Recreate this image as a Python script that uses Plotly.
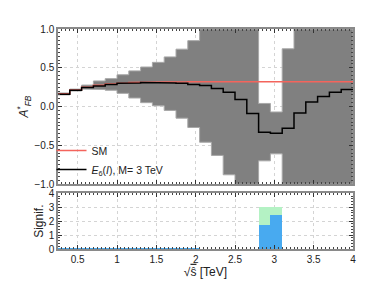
import numpy as np
import plotly.graph_objects as go

# ---- data ----
bin_edges = [0.25, 0.40, 0.55, 0.70, 0.85, 1.00, 1.15, 1.30, 1.45, 1.60, 1.75, 1.90, 2.05,
             2.20, 2.35, 2.50, 2.65, 2.80, 2.95, 3.10, 3.25, 3.40, 3.55, 3.70, 3.85, 4.00]

sm_afb = [0.165, 0.215, 0.25, 0.275, 0.29, 0.30, 0.31, 0.315, 0.317, 0.318, 0.319, 0.32,
          0.32, 0.32, 0.32, 0.32, 0.32, 0.32, 0.32, 0.32, 0.32, 0.32, 0.32, 0.32, 0.32]

e6_afb = [0.16, 0.21, 0.245, 0.265, 0.285, 0.30, 0.305, 0.31, 0.31, 0.305, 0.30, 0.285,
          0.27, 0.234, 0.186, 0.09, -0.09, -0.33, -0.343, -0.28, -0.083, 0.06, 0.13, 0.186, 0.22]

band_hi = [0.175, 0.225, 0.277, 0.33, 0.36, 0.41, 0.46, 0.51, 0.57, 0.64, 0.74, 0.85,
           1.0, 1.0, 1.0, 1.0, 1.0, 0.04, -0.07, 0.745, 1.0, 1.0, 1.0, 1.0, 1.0]
band_lo = [0.15, 0.20, 0.225, 0.22, 0.21, 0.17, 0.11, 0.05, 0.01, -0.05, -0.15, -0.27,
           -0.46, -0.63, -0.88, -1.0, -1.0, -0.70, -0.61, -1.0, -1.0, -1.0, -1.0, -1.0, -1.0]

signif_total = [0.04, 0.04, 0.04, 0.04, 0.04, 0.04, 0.04, 0.04, 0.04, 0.04, 0.04, 0.04,
                0, 0, 0, 0, 0, 3.0, 3.0, 0, 0, 0, 0, 0, 0]
signif_stat = [0.035, 0.035, 0.035, 0.035, 0.035, 0.035, 0.035, 0.035, 0.035, 0.035, 0.035, 0.035,
               0, 0, 0, 0, 0, 1.73, 2.45, 0, 0, 0, 0, 0, 0]

top_yticks = [-1.0, -0.5, 0.0, 0.5, 1.0]
bot_yticks = [0, 1, 2, 3, 4]
x_ticks = [0.5, 1, 1.5, 2, 2.5, 3, 3.5, 4]


def steps(edges, vals):
    xs, ys = [], []
    for i, v in enumerate(vals):
        xs += [edges[i], edges[i + 1]]
        ys += [v, v]
    return xs, ys


FONT = "Liberation Sans, Arial, sans-serif"
fig = go.Figure()

# band
ux, uy = steps(bin_edges, band_hi)
lx, ly = steps(bin_edges, band_lo)
fig.add_trace(go.Scatter(x=ux + lx[::-1], y=uy + ly[::-1], fill="toself",
                         fillcolor="#808080", mode="lines",
                         line=dict(color="#a8a8a8", width=1),
                         showlegend=False, hoverinfo="skip", xaxis="x", yaxis="y"))

sx, sy = steps(bin_edges, sm_afb)
fig.add_trace(go.Scatter(x=sx, y=sy, mode="lines", name="SM",
                         line=dict(color="#f4645c", width=1.5), xaxis="x", yaxis="y"))
ex, ey = steps(bin_edges, e6_afb)
fig.add_trace(go.Scatter(x=ex, y=ey, mode="lines",
                         name="<i>E</i><sub>6</sub>(<i>I</i>), M= 3 TeV",
                         line=dict(color="black", width=1.5), xaxis="x", yaxis="y"))

centers = [(bin_edges[i] + bin_edges[i + 1]) / 2 for i in range(len(bin_edges) - 1)]
widths = [bin_edges[i + 1] - bin_edges[i] for i in range(len(bin_edges) - 1)]
fig.add_trace(go.Bar(x=centers, y=signif_total, width=widths, marker_color="#b4f2c4",
                     marker_line_width=0, showlegend=False, xaxis="x2", yaxis="y2"))
fig.add_trace(go.Bar(x=centers, y=signif_stat, width=widths, marker_color="#48aaf0",
                     marker_line_width=0, showlegend=False, xaxis="x2", yaxis="y2"))

axis_common = dict(showline=True, mirror="allticks", linecolor="#8a8a8a", linewidth=1.5,
                   ticks="inside", ticklen=4, tickcolor="#333", tickwidth=1,
                   showgrid=True, gridcolor="#d4d4d4", griddash="dot", gridwidth=1,
                   zeroline=False, automargin=False,
                   tickfont=dict(size=10, color="#222", family=FONT))
minor_x = dict(ticks="inside", ticklen=2, dtick=0.05, tickcolor="#444", showgrid=False)

fig.update_layout(
    width=392, height=294,
    margin=dict(l=50, r=47, t=21, b=53),
    paper_bgcolor="white", plot_bgcolor="white",
    font=dict(family=FONT, size=11, color="#222"),
    barmode="overlay", bargap=0,
    xaxis=dict(axis_common, domain=[0, 1], range=[0.25, 4.0], tickvals=x_ticks,
               showticklabels=False, anchor="y", minor=minor_x),
    yaxis=dict(axis_common, domain=[0.295, 1], range=[-1.0, 1.0], tickvals=top_yticks,
               tickformat=".1f", anchor="x",
               title=dict(text="<i>A</i><sup>*</sup><sub><i>FB</i></sub>", font=dict(size=12), standoff=3),
               minor=dict(ticks="inside", ticklen=2, dtick=0.05, tickcolor="#444", showgrid=False)),
    xaxis2=dict(axis_common, domain=[0, 1], range=[0.25, 4.0], tickvals=x_ticks,
                anchor="y2",
                title=dict(text="√<span style='text-decoration:overline'>ŝ</span> [TeV]",
                           font=dict(size=12), standoff=2),
                minor=minor_x),
    yaxis2=dict(axis_common, domain=[0, 0.253], range=[0, 4], tickvals=bot_yticks,
                anchor="x2",
                title=dict(text="Signif.", font=dict(size=12), standoff=2),
                minor=dict(ticks="inside", ticklen=2, dtick=0.2, tickcolor="#444", showgrid=False)),
    legend=dict(x=-0.022, y=0.295, xanchor="left", yanchor="bottom",
                bgcolor="rgba(0,0,0,0)", font=dict(size=10.5, family=FONT),
                tracegroupgap=0),
)

fig.write_html("out.html")
